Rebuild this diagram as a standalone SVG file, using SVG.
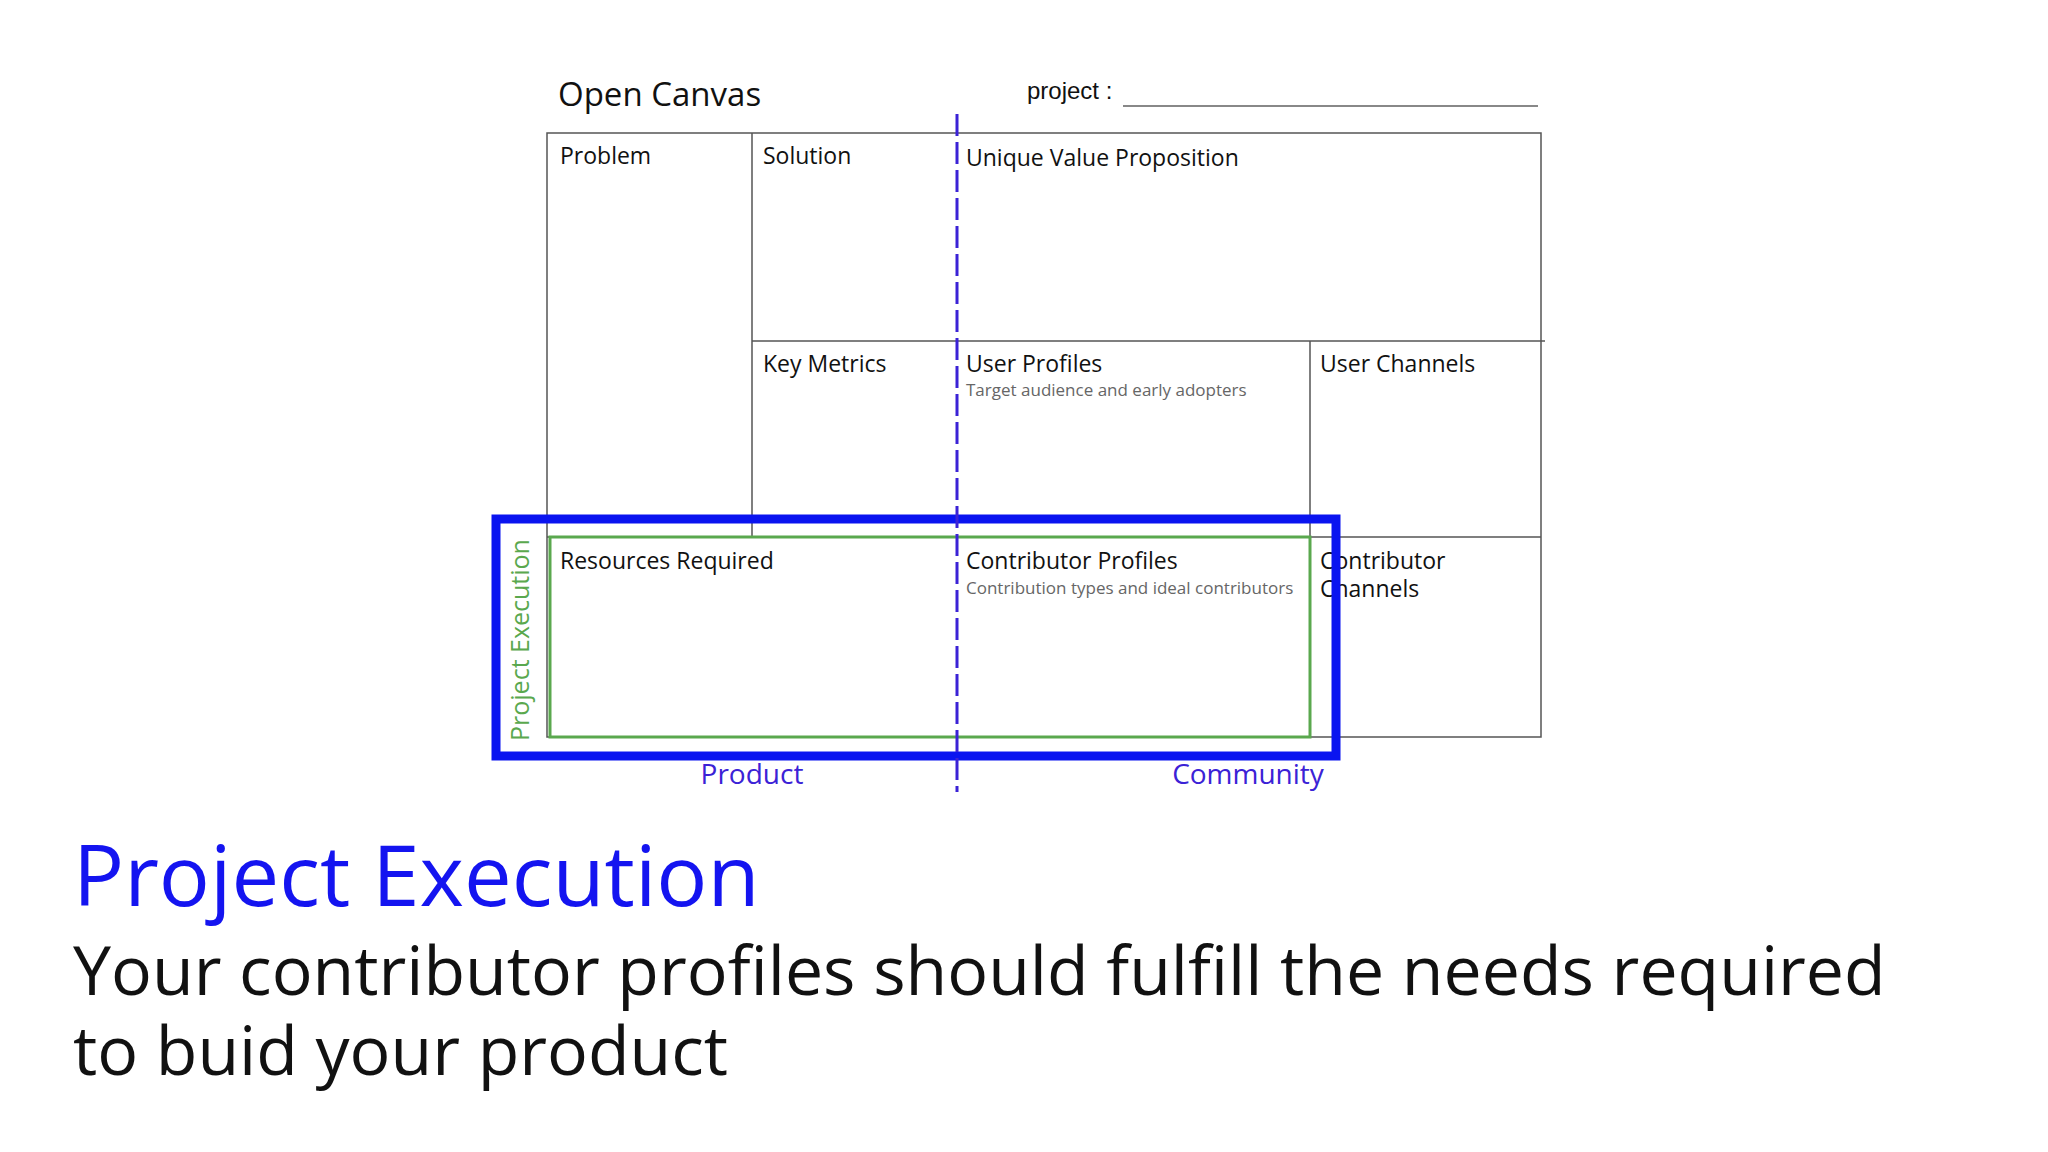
<svg xmlns="http://www.w3.org/2000/svg" width="2048" height="1152" viewBox="0 0 2048 1152">
<style>
.c{fill:none;stroke:#555;stroke-width:1.5}
.l{font-family:"Open Sans","Noto Sans",sans-serif;font-size:23px;fill:#111}
.s{font-family:"Open Sans","Noto Sans",sans-serif;font-size:17px;fill:#666}
.b{font-family:"Open Sans","Noto Sans",sans-serif;fill:#3b22d6;font-size:28px;text-anchor:middle}
</style>
<rect width="2048" height="1152" fill="#fff"/>
<g id="header">
<text x="558" y="106" font-family="Open Sans,sans-serif" font-size="33" fill="#111">Open Canvas</text>
<text x="1027" y="99" font-family="Liberation Sans,sans-serif" font-size="24" fill="#111">project :</text>
<line x1="1123" y1="106" x2="1538" y2="106" stroke="#888" stroke-width="2"/>
</g>
<g id="grid">
<rect class="c" x="547" y="133" width="994" height="604"/>
<line class="c" x1="752" y1="133" x2="752" y2="537"/>
<line class="c" x1="752" y1="341" x2="1545" y2="341"/>
<line class="c" x1="1310" y1="341" x2="1310" y2="737"/>
<line class="c" x1="547" y1="537" x2="1541" y2="537"/>
</g>
<g id="labels">
<text class="l" x="560" y="164">Problem</text>
<text class="l" x="763" y="164">Solution</text>
<text class="l" x="966" y="166">Unique Value Proposition</text>
<text class="l" x="763" y="372">Key Metrics</text>
<text class="l" x="966" y="372">User Profiles</text>
<text class="s" x="966" y="396">Target audience and early adopters</text>
<text class="l" x="1320" y="372">User Channels</text>
<text class="l" x="560" y="569">Resources Required</text>
<text class="l" x="966" y="569">Contributor Profiles</text>
<text class="s" x="966" y="594">Contribution types and ideal contributors</text>
<text class="l" x="1320" y="569">Contributor</text>
<text class="l" x="1320" y="597">Channels</text>
</g>
<g id="highlight">
<rect x="550" y="537" width="760" height="200" fill="none" stroke="#5aa84e" stroke-width="3"/>
<text x="529" y="640" transform="rotate(-90 529 640)" text-anchor="middle" font-family="Open Sans,sans-serif" font-size="25" fill="#5aa84e">Project Execution</text>
<rect x="496" y="519" width="840" height="237" fill="none" stroke="#0a14f0" stroke-width="9"/>
</g>
<g id="connectors">
<line x1="957" y1="114" x2="957" y2="792" stroke="#3b22d6" stroke-width="3" stroke-dasharray="22,6"/>
</g>
<text class="b" x="752" y="784">Product</text>
<text class="b" x="1248" y="784">Community</text>
<g id="caption">
<text x="73" y="906" font-family="Open Sans,sans-serif" font-size="85" fill="#1414f0">Project Execution</text>
<text x="73" y="995" font-family="Open Sans,sans-serif" font-size="68" fill="#111">Your contributor profiles should fulfill the needs required</text>
<text x="73" y="1075" font-family="Open Sans,sans-serif" font-size="68" fill="#111">to buid your product</text>
</g>
</svg>
